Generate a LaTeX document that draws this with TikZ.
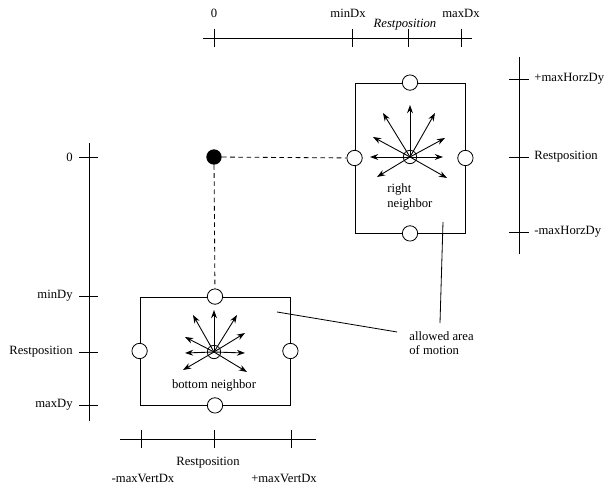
\documentclass[tikz,border=0pt]{standalone}
\usepackage{fontspec}
\setmainfont{Liberation Serif}
\usetikzlibrary{arrows.meta}

\begin{document}
\begin{tikzpicture}[x=0.03cm, y=-0.03cm,
    axis/.style={line width=0.75pt},
    area/.style={draw, line width=0.7pt, inner sep=0pt},
    port/.style={circle, draw, fill=white, line width=0.7pt, minimum size=4.6mm, inner sep=0pt},
    hub/.style={circle, draw, line width=0.7pt, minimum size=4mm, inner sep=0pt},
    vec/.style={line width=0.75pt, -{Stealth[length=7pt, width=5pt]}},
    link/.style={line width=0.7pt, dash pattern=on 4pt off 3pt},
    lbl/.style={inner sep=1pt, font=\fontsize{10.8}{12.5}\selectfont}]
    \useasboundingbox (0,0) rectangle (606,486);

    % Axes
    \draw[axis] (203,38) -- (472,38); % top: Dx
    \draw[axis] (519,57) -- (519,254); % right: HorzDy
    \draw[axis] (89,143) -- (89,421); % left: Dy
    \draw[axis] (120,439) -- (316,439); % bottom: VertDx
    \foreach \x in {214,352,408,461} \draw[axis] (\x,29) -- (\x,47);
    \foreach \y in {79,157,232} \draw[axis] (509,\y) -- (529,\y);
    \foreach \y in {157,296,352,405} \draw[axis] (79,\y) -- (98,\y);
    \foreach \x in {141,214,291} \draw[axis] (\x,430) -- (\x,448);

    % Axis labels
    \node[lbl] (tzero) at (214,13) {0};
    \node[lbl] (tmin) at (348,13) {minDx};
    \node[lbl] (tmax) at (461,13) {maxDx};
    \node[lbl] (trest) at (405,25) {\textit{Restposition}};
    \node[lbl, anchor=west] (rtop) at (533,79) {+maxHorzDy};
    \node[lbl, anchor=west] (rrest) at (533,157) {Restposition};
    \node[lbl, anchor=west] (rbot) at (533,232) {-maxHorzDy};
    \node[lbl, anchor=east] (lzero) at (74,157) {0};
    \node[lbl, anchor=east] (lmin) at (74,296) {minDy};
    \node[lbl, anchor=east] (lrest) at (74,352) {Restposition};
    \node[lbl, anchor=east] (lmax) at (74,405) {maxDy};
    \node[lbl] (brest) at (208,463) {Restposition};
    \node[lbl] (bmin) at (143,478) {-maxVertDx};
    \node[lbl] (bmax) at (284,478) {+maxVertDx};

    % Right neighbor
    \node[area, minimum width=3.3cm, minimum height=4.5cm] (rbox) at (410,158) {};
    \node[port] (rn) at (rbox.north) {};
    \node[port] (rw) at (rbox.west) {};
    \node[port] (re) at (rbox.east) {};
    \node[port] (rs) at (rbox.south) {};
    \node[hub] (rc) at (410,157) {};
    \foreach \dx/\dy in {0/-52, 25/-44, -27/-44, 35/-19, -37/-20, 33/0, -40/0, 37/21, -33/20}
        \draw[vec] (rc.center) -- ++(\dx,\dy);
    \node[lbl, anchor=west, align=left] (rname) at (386,197) {right\\neighbor};

    % Bottom neighbor
    \node[area, minimum width=4.5cm, minimum height=3.24cm] (bbox) at (215,351) {};
    \node[port] (bn) at (bbox.north) {};
    \node[port] (bw) at (bbox.west) {};
    \node[port] (be) at (bbox.east) {};
    \node[port] (bs) at (bbox.south) {};
    \node[hub] (bc) at (214,352) {};
    \foreach \dx/\dy in {0/-42, -21/-37, 23/-37, -29/-15, 31/-19, -29/1, 31/1, -31/18, 33/20}
        \draw[vec] (bc.center) -- ++(\dx,\dy);
    \node[lbl] (bname) at (214,385) {bottom neighbor};

    % Node itself and its links
    \node[circle, fill=black, minimum size=4.6mm, inner sep=0pt] (self) at (214,157) {};
    \draw[link] (self) -- (rw);
    \draw[link] (self) -- (bn);

    % Pointer to the areas
    \node[lbl, anchor=west, align=left] (note) at (408,343) {allowed area\\of motion};
    \coordinate (rtip) at (443,222);
    \coordinate (rfoot) at (440,323);
    \coordinate (btip) at (277,312);
    \coordinate (bfoot) at (397,332);
    \draw[line width=0.7pt] (rtip) -- (rfoot);
    \draw[line width=0.7pt] (btip) -- (bfoot);

\end{tikzpicture}
\end{document}
